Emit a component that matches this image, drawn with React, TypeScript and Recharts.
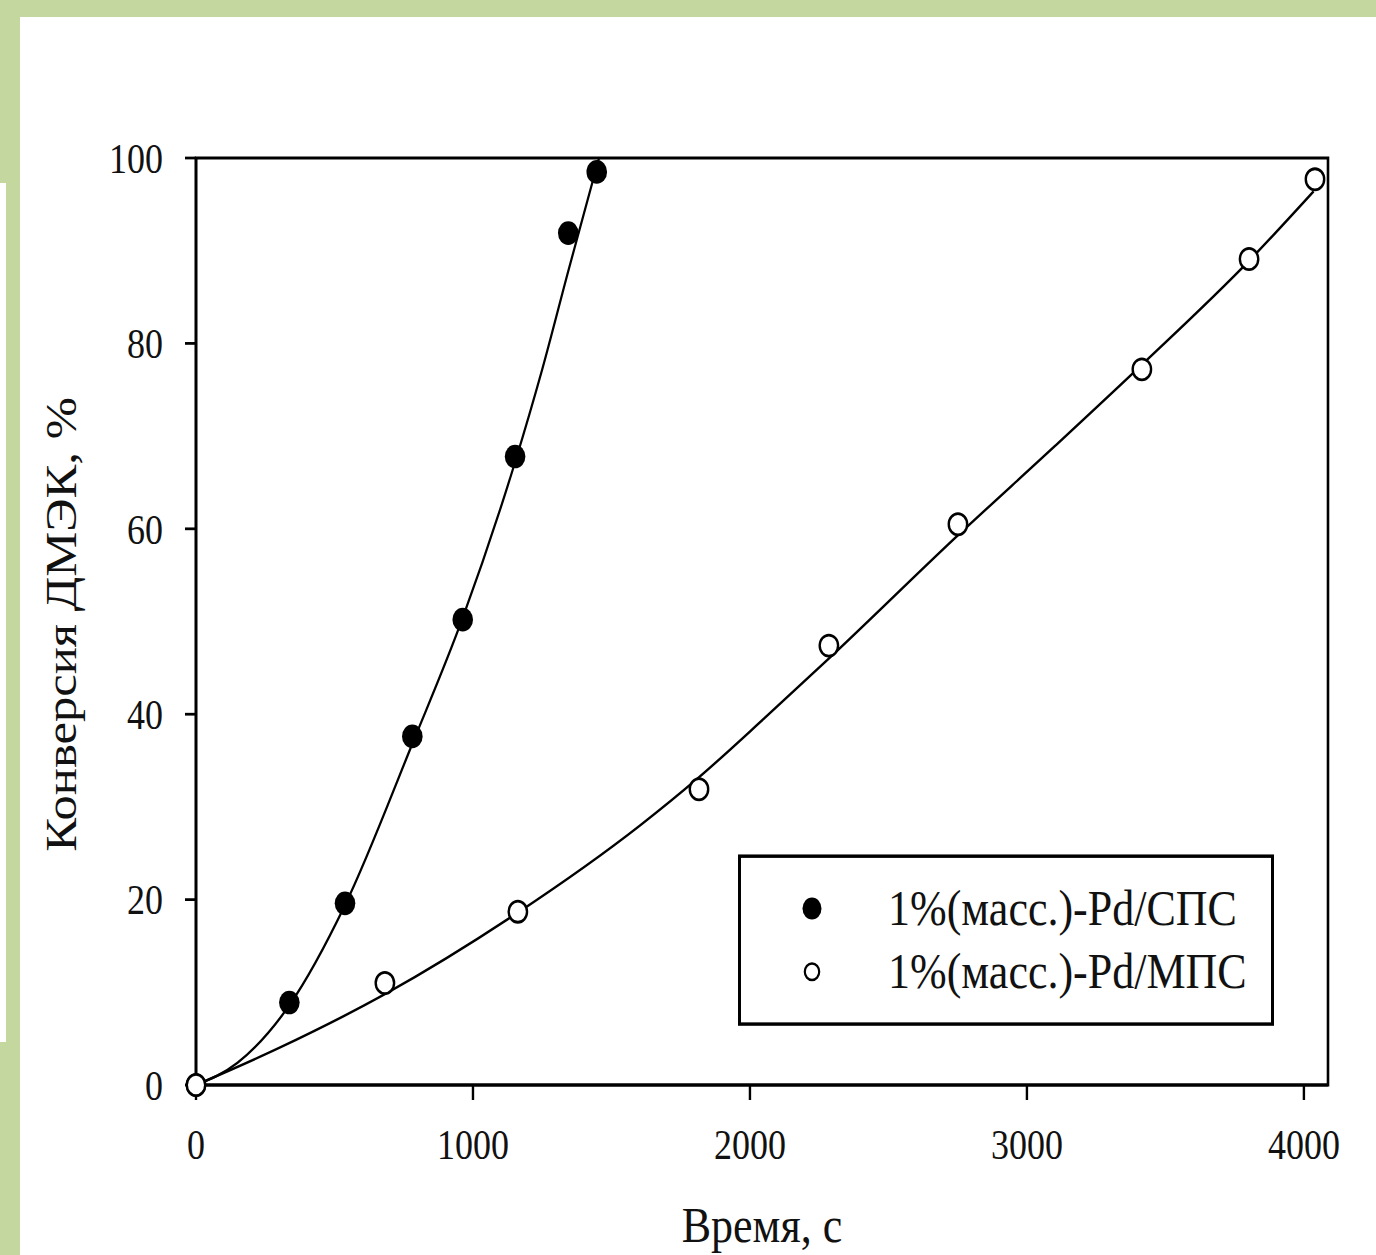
import React from "react";
import {
  ComposedChart,
  Line,
  Scatter,
  XAxis,
  YAxis,
  ReferenceArea,
  Legend,
  Label,
} from "recharts";

// measured points, time (s) vs conversion (%)
const spsTime = [0, 337, 538, 781, 963, 1152, 1344, 1447];
const spsConv = [0, 8.9, 19.6, 37.6, 50.2, 67.8, 91.9, 98.5];
const mpsTime = [0, 682, 1162, 1816, 2285, 2751, 3415, 3802, 4040];
const mpsConv = [0, 11.0, 18.7, 31.9, 47.4, 60.5, 77.2, 89.1, 97.7];

// fitted curves
const spsFitTime = [0, 150, 337, 538, 781, 963, 1152, 1250, 1344, 1455];
const spsFitConv = [0, 2.4, 8.6, 19.4, 36.8, 50.4, 67.2, 77.2, 87.8, 100];
const mpsFitTime = [0, 300, 682, 1162, 1603, 1816, 2050, 2285, 2751, 3100, 3415, 3805, 4035];
const mpsFitConv = [0, 4.0, 9.8, 18.6, 28.0, 33.2, 39.5, 46.0, 59.3, 68.9, 77.7, 89.0, 96.4];

const seriesNames = ["1%(масс.)-Pd/СПС", "1%(масс.)-Pd/МПС"];
const xTicks = [0, 1000, 2000, 3000, 4000];
const yTicks = [0, 20, 40, 60, 80, 100];
const X_MAX = 4087;

const SERIF = '"Liberation Serif", "Times New Roman", serif';
const GREEN = "#c4d79e";
const S = 1.15; // the source figure is stretched vertically
const H = 1091;

const toPts = (xs: number[], ys: number[]) => xs.map((x, i) => ({ x, y: ys[i] }));

const spsPts = toPts(spsTime, spsConv);
const mpsPts = toPts(mpsTime, mpsConv);
const spsFit = toPts(spsFitTime, spsFitConv);
const mpsFit = toPts(mpsFitTime, mpsFitConv);

const FilledDot = (p: any) => <circle cx={p.cx} cy={p.cy} r={10.3} fill="#000" />;
const OpenDot = (p: any) => (
  <circle cx={p.cx} cy={p.cy} r={9.2} fill="#fff" stroke="#000" strokeWidth={2.4} />
);

function LegendBox() {
  const rows = [
    { name: seriesNames[0], top: 47, filled: true },
    { name: seriesNames[1], top: 102.6, filled: false },
  ];
  return (
    <div
      style={{
        position: "relative",
        width: 536,
        height: 149.6,
        border: "3px solid #000",
        boxSizing: "border-box",
        background: "#fff",
      }}
    >
      {rows.map((r) => (
        <React.Fragment key={r.name}>
          <svg
            width={30}
            height={30}
            style={{ position: "absolute", left: 74 - 3 - 15, top: r.top - 3 - 15 }}
          >
            {r.filled ? (
              <circle cx={15} cy={15} r={9.5} fill="#000" />
            ) : (
              <circle cx={15} cy={15} r={7.2} fill="#fff" stroke="#000" strokeWidth={2.2} />
            )}
          </svg>
          <div
            style={{
              position: "absolute",
              left: 150 - 3,
              top: r.top - 3 - 25,
              height: 50,
              lineHeight: "50px",
              fontFamily: SERIF,
              fontSize: 44,
              color: "#111",
              whiteSpace: "nowrap",
            }}
          >
            {r.name}
          </div>
        </React.Fragment>
      ))}
    </div>
  );
}

export default function App() {
  return (
    <div
      style={{
        position: "absolute",
        left: 0,
        top: 0,
        width: 1376,
        height: 1255,
        background: GREEN,
        overflow: "hidden",
      }}
    >
      <div style={{ position: "absolute", left: 20, top: 17, right: 0, bottom: 0, background: "#fff" }} />
      <div style={{ position: "absolute", left: 0, top: 183, width: 6, height: 859, background: "#fff" }} />
      <div
        style={{
          position: "absolute",
          left: 0,
          top: 0,
          width: 1376,
          height: H,
          transform: `scaleY(${S})`,
          transformOrigin: "0 0",
        }}
      >
        <ComposedChart
          width={1376}
          height={H}
          margin={{ top: 137.4, right: 48, bottom: 87.5, left: 96 }}
        >
          <XAxis
            type="number"
            dataKey="x"
            domain={[0, X_MAX]}
            ticks={xTicks}
            height={60}
            tickSize={13}
            tickMargin={25.8}
            axisLine={{ stroke: "#000", strokeWidth: 2.6 }}
            tickLine={{ stroke: "#000", strokeWidth: 2.4 }}
            tick={{ fontSize: 36, fill: "#111", fontFamily: SERIF }}
          >
            <Label
              value="Время, с"
              position="bottom"
              offset={45.4}
              style={{ fontSize: 44, fill: "#111", fontFamily: SERIF }}
            />
          </XAxis>
          <YAxis
            type="number"
            dataKey="y"
            domain={[0, 100]}
            ticks={yTicks}
            width={100}
            tickSize={11}
            tickMargin={22}
            axisLine={{ stroke: "#000", strokeWidth: 2.6 }}
            tickLine={{ stroke: "#000", strokeWidth: 2.4 }}
            tick={{ fontSize: 36, fill: "#111", fontFamily: SERIF }}
          >
            <Label
              content={() => (
                <text
                  x={76}
                  y={543}
                  transform="rotate(-90, 76, 543)"
                  textAnchor="middle"
                  fontSize={44}
                  fill="#111"
                  fontFamily={SERIF}
                >
                  Конверсия ДМЭК, %
                </text>
              )}
            />
          </YAxis>
          <ReferenceArea
            x1={0}
            x2={X_MAX}
            y1={0}
            y2={100}
            fill="none"
            fillOpacity={0}
            stroke="#000"
            strokeWidth={2.6}
            ifOverflow="visible"
          />
          <Line
            data={spsFit}
            dataKey="y"
            type="monotone"
            stroke="#000"
            strokeWidth={2.2}
            dot={false}
            legendType="none"
            isAnimationActive={false}
          />
          <Line
            data={mpsFit}
            dataKey="y"
            type="monotone"
            stroke="#000"
            strokeWidth={2.2}
            dot={false}
            legendType="none"
            isAnimationActive={false}
          />
          <Scatter
            name={seriesNames[0]}
            data={spsPts}
            shape={FilledDot}
            isAnimationActive={false}
          />
          <Scatter
            name={seriesNames[1]}
            data={mpsPts}
            shape={OpenDot}
            isAnimationActive={false}
          />
          <Legend
            layout="vertical"
            align="center"
            verticalAlign="middle"
            content={() => <LegendBox />}
            wrapperStyle={{ left: 738, top: 742.6, width: 536, height: 149.6 }}
          />
        </ComposedChart>
      </div>
    </div>
  );
}
